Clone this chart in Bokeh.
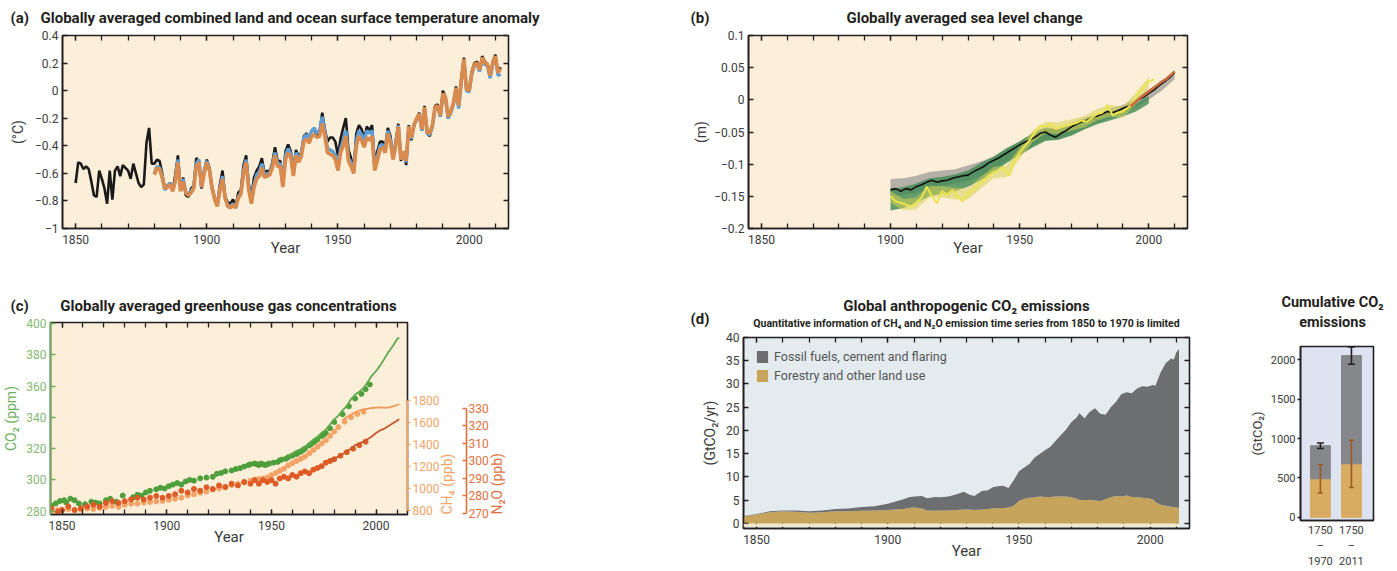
import math
from bokeh.plotting import figure
from bokeh.layouts import column, row
from bokeh.models import (Range1d, LinearAxis, FixedTicker, SingleIntervalTicker, Label,
                          Legend, LegendItem, Whisker, TeeHead, ColumnDataSource, BoxAnnotation,
                          CustomJSTickFormatter)
from bokeh.embed import file_html
from bokeh.resources import INLINE

FONT = "Roboto"
TXT = "#3a3a3a"
DARK = "#231F20"
BEIGE = "#FCEFD9"

# ---------------- (a) temperature anomaly ----------------
temp_years = list(range(1850, 2013))
temp_black = [
    -0.67, -0.52, -0.53, -0.57, -0.55, -0.57, -0.66, -0.76, -0.77, -0.58,
    -0.64, -0.71, -0.82, -0.58, -0.79, -0.58, -0.55, -0.62, -0.54, -0.56,
    -0.58, -0.64, -0.53, -0.60, -0.67, -0.70, -0.68, -0.38, -0.27, -0.53,
    -0.53, -0.50, -0.51, -0.60, -0.71, -0.69, -0.67, -0.72, -0.61, -0.47,
    -0.72, -0.63, -0.76, -0.77, -0.71, -0.69, -0.49, -0.51, -0.71, -0.59,
    -0.50, -0.56, -0.70, -0.78, -0.82, -0.68, -0.58, -0.77, -0.81, -0.82,
    -0.79, -0.84, -0.74, -0.72, -0.54, -0.47, -0.68, -0.77, -0.63, -0.58,
    -0.55, -0.49, -0.60, -0.58, -0.59, -0.52, -0.41, -0.51, -0.51, -0.65,
    -0.44, -0.39, -0.44, -0.57, -0.43, -0.48, -0.45, -0.33, -0.31, -0.35,
    -0.29, -0.28, -0.33, -0.30, -0.16, -0.28, -0.37, -0.34, -0.34, -0.37,
    -0.47, -0.35, -0.27, -0.20, -0.43, -0.49, -0.57, -0.31, -0.25, -0.28,
    -0.35, -0.26, -0.29, -0.25, -0.52, -0.44, -0.37, -0.37, -0.41, -0.27,
    -0.33, -0.49, -0.37, -0.24, -0.51, -0.45, -0.54, -0.25, -0.36, -0.24,
    -0.21, -0.16, -0.29, -0.11, -0.31, -0.33, -0.26, -0.11, -0.10, -0.18,
    0.00, -0.05, -0.20, -0.15, -0.09, 0.03, -0.12, 0.09, 0.24, 0.01,
    -0.01, 0.14, 0.20, 0.21, 0.15, 0.25, 0.21, 0.19, 0.10, 0.21,
    0.26, 0.13, 0.17]
temp_years2 = list(range(1880, 2013))
temp_orange = [
    -0.61, -0.56, -0.57, -0.63, -0.71, -0.70, -0.68, -0.73, -0.66, -0.52,
    -0.73, -0.66, -0.74, -0.76, -0.74, -0.71, -0.55, -0.52, -0.70, -0.60,
    -0.52, -0.58, -0.70, -0.79, -0.84, -0.72, -0.64, -0.78, -0.84, -0.85,
    -0.83, -0.85, -0.78, -0.75, -0.60, -0.52, -0.72, -0.82, -0.70, -0.64,
    -0.62, -0.56, -0.63, -0.62, -0.61, -0.56, -0.47, -0.55, -0.55, -0.70,
    -0.50, -0.45, -0.48, -0.62, -0.47, -0.52, -0.48, -0.37, -0.35, -0.38,
    -0.33, -0.32, -0.34, -0.33, -0.24, -0.33, -0.45, -0.46, -0.47, -0.50,
    -0.58, -0.45, -0.40, -0.33, -0.51, -0.55, -0.60, -0.40, -0.33, -0.36,
    -0.41, -0.34, -0.36, -0.33, -0.58, -0.51, -0.43, -0.41, -0.45, -0.31,
    -0.38, -0.50, -0.40, -0.26, -0.50, -0.44, -0.51, -0.26, -0.34, -0.25,
    -0.20, -0.17, -0.28, -0.12, -0.30, -0.31, -0.25, -0.12, -0.11, -0.18,
    -0.02, -0.05, -0.19, -0.15, -0.09, 0.02, -0.11, 0.07, 0.23, 0.01,
    0.00, 0.13, 0.19, 0.20, 0.15, 0.24, 0.20, 0.19, 0.11, 0.20,
    0.25, 0.13, 0.16]
temp_blue = [
    -0.60, -0.55, -0.56, -0.62, -0.72, -0.70, -0.67, -0.72, -0.65, -0.50,
    -0.72, -0.64, -0.74, -0.75, -0.73, -0.70, -0.53, -0.50, -0.70, -0.58,
    -0.51, -0.57, -0.71, -0.78, -0.83, -0.71, -0.62, -0.78, -0.83, -0.84,
    -0.82, -0.85, -0.77, -0.74, -0.58, -0.50, -0.70, -0.80, -0.68, -0.61,
    -0.59, -0.53, -0.62, -0.60, -0.60, -0.54, -0.45, -0.53, -0.53, -0.67,
    -0.47, -0.42, -0.46, -0.60, -0.45, -0.50, -0.46, -0.34, -0.32, -0.35,
    -0.29, -0.27, -0.31, -0.29, -0.19, -0.30, -0.42, -0.43, -0.44, -0.47,
    -0.55, -0.42, -0.36, -0.29, -0.49, -0.52, -0.58, -0.36, -0.29, -0.32,
    -0.36, -0.29, -0.31, -0.29, -0.56, -0.48, -0.40, -0.39, -0.43, -0.29,
    -0.36, -0.49, -0.39, -0.25, -0.50, -0.44, -0.52, -0.26, -0.35, -0.25,
    -0.21, -0.17, -0.29, -0.13, -0.31, -0.32, -0.26, -0.13, -0.11, -0.19,
    -0.03, -0.06, -0.20, -0.16, -0.10, 0.01, -0.13, 0.06, 0.22, 0.00,
    -0.01, 0.12, 0.18, 0.19, 0.14, 0.23, 0.19, 0.18, 0.09, 0.19,
    0.24, 0.11, 0.12]
temp_ticks = [-1.0, -0.8, -0.6, -0.4, -0.2, 0.0, 0.2, 0.4]
temp_tick_labels = ["\u22121", "\u22120.8", "\u22120.6", "\u22120.4", "\u22120.2", "0", "0.2", "0.4"]

# ---------------- (b) sea level ----------------
sl_years = list(range(1900, 2011, 2))
sl_black = [
    -0.140, -0.138, -0.142, -0.138, -0.140, -0.135, -0.132, -0.128, -0.125, -0.128,
    -0.126, -0.125, -0.122, -0.120, -0.118, -0.117, -0.112, -0.108, -0.104, -0.098,
    -0.094, -0.090, -0.085, -0.080, -0.075, -0.070, -0.066, -0.062, -0.058, -0.052,
    -0.050, -0.055, -0.058, -0.052, -0.048, -0.042, -0.038, -0.034, -0.032, -0.028,
    -0.025, -0.022, -0.018, -0.020, -0.017, -0.013, -0.010, -0.006, 0.000, 0.004,
    0.010, 0.015, 0.022, 0.028, 0.034, 0.042]
sl_yellow_years = list(range(1900, 2003, 2))
sl_yellow = [
    -0.150, -0.158, -0.160, -0.163, -0.166, -0.160, -0.152, -0.135, -0.150, -0.160,
    -0.142, -0.148, -0.140, -0.150, -0.158, -0.145, -0.140, -0.132, -0.125, -0.118,
    -0.112, -0.110, -0.105, -0.118, -0.095, -0.082, -0.072, -0.062, -0.050, -0.040,
    -0.042, -0.038, -0.045, -0.042, -0.040, -0.038, -0.036, -0.032, -0.034, -0.028,
    -0.022, -0.020, -0.008, -0.024, -0.020, -0.018, -0.012, -0.004, 0.010, 0.020,
    0.028, 0.032]
band_years = list(range(1900, 2011, 5))
grey_lo = [-0.150, -0.148, -0.145, -0.138, -0.134, -0.130, -0.126, -0.118, -0.108, -0.096, -0.084, -0.072,
           -0.062, -0.062, -0.054, -0.044, -0.036, -0.028, -0.022, -0.012, 0.000, 0.014, 0.032]
grey_hi = [-0.123, -0.122, -0.118, -0.112, -0.110, -0.108, -0.102, -0.096, -0.088, -0.076, -0.064, -0.052,
           -0.042, -0.046, -0.036, -0.028, -0.022, -0.014, -0.008, 0.002, 0.016, 0.028, 0.046]
band_years2 = list(range(1900, 2001, 5))
green_lo = [-0.172, -0.168, -0.160, -0.150, -0.146, -0.142, -0.135, -0.125, -0.112, -0.098, -0.086,
            -0.074, -0.064, -0.062, -0.056, -0.046, -0.038, -0.032, -0.026, -0.018, -0.006]
green_hi = [-0.138, -0.136, -0.130, -0.122, -0.120, -0.116, -0.110, -0.098, -0.088, -0.075, -0.065,
            -0.052, -0.044, -0.046, -0.040, -0.030, -0.024, -0.018, -0.014, -0.006, 0.006]
yellow_lo = [-0.160, -0.172, -0.170, -0.152, -0.152, -0.155, -0.155, -0.138, -0.122, -0.120, -0.092,
             -0.066, -0.052, -0.053, -0.048, -0.043, -0.032, -0.026, -0.028, -0.007, 0.018]
yellow_hi = [-0.142, -0.154, -0.152, -0.134, -0.134, -0.137, -0.137, -0.120, -0.104, -0.102, -0.074,
             -0.048, -0.034, -0.035, -0.030, -0.025, -0.014, -0.008, -0.010, 0.011, 0.036]
sat_years = [1993, 1995, 1997, 1999, 2001, 2003, 2005, 2007, 2009, 2010]
sat_vals = [-0.010, -0.003, 0.004, 0.010, 0.016, 0.022, 0.028, 0.033, 0.040, 0.044]
sl_ticks = [-0.2, -0.15, -0.1, -0.05, 0.0, 0.05, 0.1]
sl_tick_labels = ["\u22120.2", "\u22120.15", "\u22120.1", "\u22120.05", "0", "0.05", "0.1"]

# ---------------- (c) greenhouse gases ----------------
co2_ice = [(1845, 283.5), (1847, 285), (1849, 286.5), (1851, 287), (1852, 285.5), (1854, 288),
           (1856, 287), (1858, 285), (1861, 284.5), (1864, 286), (1866, 285.5), (1868, 285),
           (1871, 287), (1873, 288), (1876, 286), (1879, 290), (1884, 289), (1886, 290.5),
           (1888, 290), (1890, 292), (1892, 293), (1895, 294), (1897, 295), (1899, 294.5),
           (1901, 296), (1903, 297), (1905, 298), (1907, 297), (1909, 299), (1911, 300),
           (1913, 299.5), (1916, 301), (1919, 301.5), (1922, 302), (1924, 304), (1926, 304.5),
           (1928, 305.5), (1931, 306), (1933, 307), (1935, 307.5), (1937, 308.5), (1939, 309.5),
           (1940, 310), (1942, 310.5), (1943, 310), (1944, 309.5), (1945, 310.5), (1946, 310),
           (1947, 309.5), (1948, 310), (1949, 310.5), (1951, 311), (1953, 311.5), (1954, 312.5),
           (1955, 313), (1957, 313.5), (1958, 314.5), (1960, 315.5), (1962, 316.5), (1963, 317.5),
           (1964, 318), (1965, 319), (1966, 320), (1968, 322), (1969, 323), (1970, 324),
           (1971, 325), (1972, 326), (1974, 328), (1975, 329), (1976, 330), (1978, 333),
           (1980, 337), (1984, 342), (1987, 347), (1990, 352), (1993, 355), (1995, 358), (1997, 361)]
co2_obs = [(1958, 315.3), (1960, 316.9), (1962, 318.6), (1964, 319.6), (1966, 321.4), (1968, 323.0),
           (1970, 325.7), (1972, 327.5), (1974, 330.2), (1976, 332.1), (1978, 335.4), (1980, 338.7),
           (1982, 341.1), (1984, 344.4), (1986, 347.2), (1988, 351.6), (1990, 354.4), (1992, 356.4),
           (1994, 358.8), (1996, 362.6), (1998, 366.7), (2000, 369.6), (2002, 373.2), (2004, 377.5),
           (2006, 381.9), (2008, 385.6), (2010, 389.9), (2011, 391.0)]
ch4_ice = [(1845, 790), (1848, 800), (1850, 795), (1853, 810), (1856, 800), (1859, 805), (1862, 815),
           (1865, 810), (1868, 820), (1871, 830), (1874, 840), (1877, 830), (1880, 850), (1883, 860),
           (1886, 860), (1889, 870), (1892, 875), (1895, 880), (1898, 885), (1901, 895), (1904, 905),
           (1907, 915), (1910, 935), (1913, 945), (1916, 960), (1919, 970), (1922, 990), (1925, 1000),
           (1928, 1015), (1931, 1030), (1934, 1040), (1937, 1055), (1940, 1070), (1942, 1080),
           (1944, 1085), (1946, 1090), (1948, 1100), (1950, 1120), (1952, 1140), (1954, 1160),
           (1956, 1180), (1958, 1210), (1960, 1230), (1962, 1250), (1964, 1270), (1966, 1290),
           (1968, 1320), (1970, 1350), (1972, 1380), (1974, 1410), (1976, 1440), (1978, 1480),
           (1980, 1520), (1982, 1560), (1985, 1610), (1988, 1650), (1991, 1680), (1994, 1700)]
ch4_obs = [(1984, 1625), (1986, 1650), (1988, 1675), (1990, 1695), (1992, 1712), (1994, 1722),
           (1996, 1728), (1998, 1735), (2000, 1738), (2002, 1740), (2004, 1738), (2006, 1738),
           (2008, 1750), (2010, 1762), (2011, 1770)]
n2o_ice = [(1845, 273), (1848, 271), (1850, 272), (1853, 274), (1856, 272), (1859, 273), (1862, 274),
           (1865, 275), (1868, 274), (1871, 276), (1874, 277), (1877, 276), (1880, 277), (1883, 278),
           (1886, 279), (1889, 278), (1892, 279), (1895, 280), (1898, 279), (1901, 280), (1904, 281),
           (1907, 283), (1910, 282), (1913, 284), (1916, 283), (1919, 285), (1922, 284), (1925, 286),
           (1928, 285), (1931, 287), (1934, 286), (1937, 288), (1940, 287), (1942, 289), (1944, 287),
           (1946, 289), (1948, 288), (1950, 289), (1952, 287), (1954, 290), (1956, 291), (1958, 290),
           (1960, 292), (1962, 291), (1964, 293), (1966, 294), (1968, 293), (1970, 295), (1972, 296),
           (1974, 297), (1976, 299), (1978, 300), (1980, 301), (1983, 303), (1986, 305), (1989, 307),
           (1992, 309), (1995, 311)]
n2o_obs = [(1978, 300.5), (1980, 301.5), (1982, 302.5), (1984, 304), (1986, 305.5), (1988, 307),
           (1990, 309), (1992, 310), (1994, 311), (1996, 312.5), (1998, 314), (2000, 316),
           (2002, 317.5), (2004, 318.5), (2006, 320), (2008, 321.5), (2010, 323), (2011, 324)]
co2_ticks = [280, 300, 320, 340, 360, 380, 400]
ch4_ticks = [800, 1000, 1200, 1400, 1600, 1800]
n2o_ticks = [270, 280, 290, 300, 310, 320, 330]

# ---------------- (d) emissions: (year, forestry, fossil) ----------------
emissions = [(1845, 1.5, 0.1), (1850, 1.9, 0.1), (1855, 2.4, 0.2), (1860, 2.6, 0.2), (1865, 2.5, 0.3),
             (1870, 2.3, 0.3), (1875, 2.4, 0.4), (1880, 2.6, 0.5), (1885, 2.6, 0.6), (1890, 2.7, 0.8),
             (1895, 2.8, 0.9), (1900, 2.9, 1.3), (1903, 3.0, 1.7), (1906, 3.1, 2.1), (1908, 3.3, 2.3),
             (1910, 3.4, 2.4), (1913, 3.2, 2.7), (1915, 2.8, 2.6), (1918, 2.7, 3.0), (1920, 2.8, 2.8),
             (1923, 2.8, 3.0), (1926, 2.9, 3.3), (1929, 3.0, 3.8), (1931, 3.0, 3.2), (1933, 2.9, 3.0),
             (1936, 3.0, 4.0), (1938, 3.1, 4.0), (1940, 3.2, 4.6), (1942, 3.3, 4.7), (1944, 3.3, 4.8),
             (1946, 3.4, 4.2), (1948, 3.8, 5.5), (1950, 4.8, 6.4), (1952, 5.3, 6.7), (1954, 5.5, 7.3),
             (1956, 5.6, 8.6), (1958, 5.8, 9.2), (1960, 5.7, 10.1), (1962, 5.7, 10.8), (1964, 5.8, 12.0),
             (1966, 5.8, 13.2), (1968, 5.8, 14.4), (1970, 5.6, 16.2), (1972, 5.3, 17.5), (1973, 5.1, 18.6),
             (1975, 5.0, 17.6), (1977, 5.1, 18.9), (1979, 4.9, 19.9), (1981, 4.8, 18.8), (1983, 5.2, 18.2),
             (1985, 5.6, 19.4), (1987, 5.9, 20.3), (1989, 5.8, 22.0), (1991, 6.0, 22.2), (1993, 5.7, 22.3),
             (1995, 5.6, 23.4), (1997, 5.5, 24.0), (1999, 5.4, 24.0), (2001, 5.2, 24.6), (2002, 4.6, 25.0),
             (2004, 4.0, 28.5), (2006, 3.8, 30.7), (2008, 3.6, 31.9), (2009, 3.5, 31.7), (2010, 3.4, 33.4),
             (2011, 3.3, 34.3)]
em_ticks = [0, 5, 10, 15, 20, 25, 30, 35, 40]
em_labels = ["Forestry and other land use", "Fossil fuels, cement and flaring"]

# ---------------- cumulative ----------------
cum_start = ["1750", "1750"]
cum_end = ["1970", "2011"]
cum_forestry = [490, 680]
cum_fossil = [420, 1375]
cum_forestry_err = [180, 300]
cum_total_err = [35, 110]
cum_ticks = [0, 500, 1000, 1500, 2000]

GREY = "#6D6E70"
TAN = "#C7A45B"


# ---------------- helpers ----------------
def make_fig(width, height, xr, yr, bl, br, bt, bb, bg):
    p = figure(width=width, height=height, x_range=xr, y_range=yr,
               output_backend="svg", toolbar_location=None,
               min_border_left=bl, min_border_right=br, min_border_top=bt, min_border_bottom=bb)
    p.background_fill_color = bg
    p.border_fill_color = "white"
    p.outline_line_color = DARK
    p.outline_line_width = 1.6
    p.xgrid.visible = False
    p.ygrid.visible = False
    return p


def header(width, height, x0, y0):
    # a bare strip whose data units equal page pixels, used for panel titles
    p = figure(width=width, height=height, x_range=Range1d(x0, x0 + width),
               y_range=Range1d(y0 + height, y0), output_backend="svg", toolbar_location=None,
               x_axis_type=None, y_axis_type=None, min_border=0)
    p.outline_line_color = None
    p.grid.visible = False
    p.background_fill_color = "white"
    p.border_fill_color = "white"
    return p


def style_axis(ax, size="12px", color=TXT, line=DARK):
    ax.major_label_text_font = FONT
    ax.major_label_text_font_size = size
    ax.major_label_text_color = color
    ax.major_tick_in = 5
    ax.major_tick_out = 0
    ax.minor_tick_in = 5
    ax.minor_tick_out = 0
    ax.axis_line_color = line
    ax.axis_line_width = 1.6
    ax.major_tick_line_color = line
    ax.minor_tick_line_color = line
    ax.major_tick_line_width = 1.3
    ax.minor_tick_line_width = 1.3
    ax.major_label_standoff = 4
    ax.axis_label_text_font = FONT
    ax.axis_label_text_font_style = "normal"
    ax.axis_label_text_font_size = "14px"
    ax.axis_label_text_color = color


def mirror(p, side, ticker):
    ax = LinearAxis(ticker=ticker, formatter=CustomJSTickFormatter(code="return ''"))
    style_axis(ax)
    ax.major_label_text_font_size = "1px"
    ax.major_label_standoff = 0
    ax.axis_line_color = None
    p.add_layout(ax, side)


def text(p, x, y, s, size, bold=True, align="left", color=DARK):
    p.add_layout(Label(x=x, y=y, text=s, text_font=FONT,
                       text_font_size=size, text_font_style="bold" if bold else "normal",
                       text_align=align, text_baseline="middle", text_color=color))


def year_axis(p, standoff=-8):
    ax = p.xaxis[0]
    ax.ticker = SingleIntervalTicker(interval=50, num_minor_ticks=5)
    style_axis(ax)
    ax.major_label_standoff = 6
    ax.axis_label = "Year"
    ax.axis_label_text_font_size = "15px"
    ax.axis_label_standoff = standoff
    mirror(p, "above", SingleIntervalTicker(interval=50, num_minor_ticks=5))


# ---------------- header, top row ----------------
h1 = header(1396, 28, 0, 0)
text(h1, 10, 17, "(a)", "15px")
text(h1, 40, 17, "Globally averaged combined land and ocean surface temperature anomaly", "15px")
text(h1, 690, 17, "(b)", "15px")
text(h1, 964, 17, "Globally averaged sea level change", "15px", align="center")

# ---------------- panel (a) ----------------
pa = make_fig(690, 242, Range1d(1845, 2015), Range1d(-1.0, 0.4), 62, 182, 7, 42, BEIGE)
pa.line(temp_years, temp_black, line_color="#1A1A1A", line_width=2.6)
pa.line(temp_years2, temp_blue, line_color="#5E9ED6", line_width=3.4)
pa.line(temp_years2, temp_orange, line_color="#D98A4C", line_width=3.6)
year_axis(pa)
ya = pa.yaxis[0]
ya.ticker = FixedTicker(ticks=temp_ticks)
ya.major_label_overrides = dict(zip(temp_ticks, temp_tick_labels))
style_axis(ya)
ya.axis_label = "(\u00b0C)"
ya.axis_label_standoff = 6
mirror(pa, "right", FixedTicker(ticks=temp_ticks))

# ---------------- panel (b) ----------------
pb = make_fig(706, 242, Range1d(1845, 2015), Range1d(-0.2, 0.1), 51, 209, 7, 42, BEIGE)
pb.varea(band_years, grey_lo, grey_hi, fill_color="#9C9A96", fill_alpha=0.75)
pb.varea(band_years2, green_lo, green_hi, fill_color="#3F8950", fill_alpha=0.8)
pb.varea(band_years2, yellow_lo, yellow_hi, fill_color="#D7CF55", fill_alpha=0.55)
pb.line(sl_years, sl_black, line_color="#111111", line_width=1.6)
pb.line(sl_yellow_years, sl_yellow, line_color="#EAE44E", line_width=2.0)
pb.line(sat_years, sat_vals, line_color="#C8693C", line_width=2.6)
year_axis(pb)
yb = pb.yaxis[0]
yb.ticker = FixedTicker(ticks=sl_ticks)
yb.major_label_overrides = dict(zip(sl_ticks, sl_tick_labels))
style_axis(yb)
yb.axis_label = "(m)"
yb.axis_label_standoff = 2
mirror(pb, "right", FixedTicker(ticks=sl_ticks))

# ---------------- header + panel (c) ----------------
hc = header(690, 44, 0, 270)
text(hc, 10, 305, "(c)", "15px")
text(hc, 228, 305, "Globally averaged greenhouse gas concentrations", "15px", align="center")

CO2C, CH4C, N2OC = "#4E9E3C", "#F3A366", "#DF5A24"
pc = make_fig(690, 256, Range1d(1844.5, 2015), Range1d(277.9, 400.6), 50, 283, 8, 56, BEIGE)
pc.extra_y_ranges = {"ch4": Range1d(760.7, 2517), "n2o": Range1d(269.4, 379.1)}
pc.scatter([d[0] for d in co2_ice], [d[1] for d in co2_ice], size=5, color=CO2C)
pc.line([d[0] for d in co2_obs], [d[1] for d in co2_obs], line_color="#5FA84C", line_width=1.8)
pc.scatter([d[0] for d in ch4_ice], [d[1] for d in ch4_ice], size=5, color=CH4C, y_range_name="ch4")
pc.line([d[0] for d in ch4_obs], [d[1] for d in ch4_obs], line_color="#EE9A5A", line_width=1.8,
        y_range_name="ch4")
pc.scatter([d[0] for d in n2o_ice], [d[1] for d in n2o_ice], size=5, color=N2OC, y_range_name="n2o")
pc.line([d[0] for d in n2o_obs], [d[1] for d in n2o_obs], line_color="#C65A2E", line_width=1.8,
        y_range_name="n2o")
year_axis(pc, standoff=-5)
yc = pc.yaxis[0]
yc.ticker = FixedTicker(ticks=co2_ticks)
style_axis(yc, color="#86B874", line="#6DAE5C")
yc.axis_label = "CO\u2082 (ppm)"
yc.axis_label_text_color = "#6FB05E"
yc.axis_label_standoff = 4
ax_ch4 = LinearAxis(y_range_name="ch4", bounds=(800, 1800), ticker=FixedTicker(ticks=ch4_ticks),
                    axis_label="CH\u2084 (ppb)")
style_axis(ax_ch4, color=CH4C, line=CH4C)
ax_ch4.major_tick_in = 0
ax_ch4.major_tick_out = 3
ax_ch4.major_label_standoff = 2
ax_ch4.axis_label_standoff = 5
ax_n2o = LinearAxis(y_range_name="n2o", bounds=(270, 330), ticker=FixedTicker(ticks=n2o_ticks),
                    axis_label="N\u2082O (ppb)")
style_axis(ax_n2o, color="#E2703F", line="#E2703F")
ax_n2o.major_tick_in = 4
ax_n2o.major_tick_out = 0
ax_n2o.major_label_standoff = 2
ax_n2o.axis_label_standoff = 5
for _ax in (ax_ch4, ax_n2o):
    try:
        _ax.axis_label_orientation = math.pi / 2
    except Exception:
        pass
    try:
        _ax.axis_label_align = "start"
    except Exception:
        pass
pc.add_layout(ax_ch4, "right")
pc.add_layout(ax_n2o, "right")

# ---------------- header + panel (d) + cumulative ----------------
hd = header(706, 60, 690, 270)
text(hd, 690, 318, "(d)", "15px")
text(hd, 966, 305, "Global anthropogenic CO\u2082 emissions", "15px", align="center")
text(hd, 966, 323, "Quantitative information of CH\u2084 and N\u2082O emission time series from 1850 to 1970 is limited",
     "10.5px", align="center")
text(hd, 1332, 302, "Cumulative CO\u2082", "14.5px", align="center")
text(hd, 1332, 322, "emissions", "14.5px", align="center")

src_em = ColumnDataSource(dict(year=[e[0] for e in emissions],
                               forestry=[e[1] for e in emissions],
                               fossil=[e[2] for e in emissions]))
pd_ = make_fig(556, 240, Range1d(1845, 2015), Range1d(-1.1, 40), 53, 57, 7, 42, "#E3EBEF")
pd_.add_layout(BoxAnnotation(left=1845, right=2011, bottom=-0.75, top=-0.1, fill_color="#F3E8C8",
                             fill_alpha=1.0, line_color=None))
rs = pd_.varea_stack(["forestry", "fossil"], x="year", source=src_em, color=[TAN, GREY])
year_axis(pd_, standoff=-5)
yd = pd_.yaxis[0]
yd.ticker = FixedTicker(ticks=em_ticks)
style_axis(yd)
yd.axis_label = "(GtCO\u2082/yr)"
yd.axis_label_standoff = 5
mirror(pd_, "right", FixedTicker(ticks=em_ticks))
leg = Legend(items=[LegendItem(label=em_labels[1], renderers=[rs[1]]),
                    LegendItem(label=em_labels[0], renderers=[rs[0]])],
             location="top_left")
leg.background_fill_alpha = 0
leg.border_line_color = None
leg.label_text_font = FONT
leg.label_text_font_size = "12.5px"
leg.label_text_color = "#555555"
leg.glyph_width = 14
leg.glyph_height = 15
leg.spacing = 4
leg.margin = 12
leg.padding = 6
leg.label_standoff = 5
pd_.add_layout(leg)

cum_x = [1, 2]
src_cum = ColumnDataSource(dict(
    x=cum_x, forestry=cum_forestry, fossil=cum_fossil,
    f_lo=[f - e for f, e in zip(cum_forestry, cum_forestry_err)],
    f_hi=[f + e for f, e in zip(cum_forestry, cum_forestry_err)],
    t_lo=[f + g - e for f, g, e in zip(cum_forestry, cum_fossil, cum_total_err)],
    t_hi=[f + g + e for f, g, e in zip(cum_forestry, cum_fossil, cum_total_err)]))
pe = make_fig(150, 240, Range1d(0.36, 2.71), Range1d(-40, 2170), 46, 23, 16, 43, "#DDE3F1")
pe.vbar_stack(["forestry", "fossil"], x="x", width=0.64, source=src_cum, color=["#D8AD62", "#86878A"])
pe.add_layout(Whisker(source=src_cum, base="x", lower="f_lo", upper="f_hi", line_color="#9A5A22",
                      line_width=1.6, level="overlay",
                      upper_head=TeeHead(size=5, line_color="#9A5A22", line_width=1.4),
                      lower_head=TeeHead(size=5, line_color="#9A5A22", line_width=1.4)))
pe.add_layout(Whisker(source=src_cum, base="x", lower="t_lo", upper="t_hi", line_color=DARK,
                      line_width=1.6, level="overlay",
                      upper_head=TeeHead(size=7, line_color=DARK, line_width=1.5),
                      lower_head=TeeHead(size=7, line_color=DARK, line_width=1.5)))
xe = pe.xaxis[0]
xe.ticker = FixedTicker(ticks=cum_x)
xe.major_label_overrides = {x: "%s\n\u2013\n%s" % (s, e) for x, s, e in zip(cum_x, cum_start, cum_end)}
style_axis(xe, size="11px")
xe.major_tick_in = 0
xe.major_label_standoff = 3
ye = pe.yaxis[0]
ye.ticker = FixedTicker(ticks=cum_ticks)
style_axis(ye, size="11px")
ye.major_tick_in = 0
ye.major_tick_out = 3
ye.major_label_standoff = 2
ye.axis_label = "(GtCO\u2082)"
ye.axis_label_text_font_size = "13px"
ye.axis_label_standoff = 3

layout = column(h1, row(pa, pb),
                row(column(hc, row(pc)), column(hd, row(column(pd_), column(pe)))))
open("out.html", "w").write(file_html(layout, INLINE))
